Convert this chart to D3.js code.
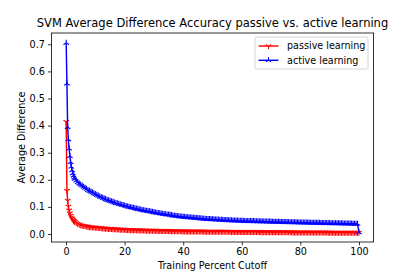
<!DOCTYPE html>
<html>
<head>
<meta charset="utf-8">
<script src="https://cdn.jsdelivr.net/npm/d3@7"></script>
<style>
body { margin: 0; background: #fff; }
text { font-family: "DejaVu Sans", sans-serif; fill: #000; }
</style>
</head>
<body>
<div id="chart"></div>
<script>
// training percent cutoff (x)
const cutoffs = [0.05, 0.3, 0.55, 0.8, 1.05, 1.3, 1.55, 1.8, 2.05, 2.3, 2.55, 2.8, 3, 3.5, 4, 4.5, 5, 5.5,
  6, 6.5, 7, 7.5, 8, 8.5, 9, 9.5, 10, 10.5,
  11, 11.5, 12, 12.5, 13, 13.5, 14, 14.5, 15, 15.5,
  16, 16.5, 17, 17.5, 18, 18.5, 19, 19.5, 20, 20.5,
  21, 21.5, 22, 22.5, 23, 23.5, 24, 24.5, 25, 25.5,
  26, 26.5, 27, 27.5, 28, 28.5, 29, 29.5, 30, 30.5,
  31, 31.5, 32, 32.5, 33, 33.5, 34, 34.5, 35, 35.5,
  36, 36.5, 37, 37.5, 38, 38.5, 39, 39.5, 40, 40.5,
  41, 41.5, 42, 42.5, 43, 43.5, 44, 44.5, 45, 45.5,
  46, 46.5, 47, 47.5, 48, 48.5, 49, 49.5, 50, 50.5,
  51, 51.5, 52, 52.5, 53, 53.5, 54, 54.5, 55, 55.5,
  56, 56.5, 57, 57.5, 58, 58.5, 59, 59.5, 60, 60.5,
  61, 61.5, 62, 62.5, 63, 63.5, 64, 64.5, 65, 65.5,
  66, 66.5, 67, 67.5, 68, 68.5, 69, 69.5, 70, 70.5,
  71, 71.5, 72, 72.5, 73, 73.5, 74, 74.5, 75, 75.5,
  76, 76.5, 77, 77.5, 78, 78.5, 79, 79.5, 80, 80.5,
  81, 81.5, 82, 82.5, 83, 83.5, 84, 84.5, 85, 85.5,
  86, 86.5, 87, 87.5, 88, 88.5, 89, 89.5, 90, 90.5,
  91, 91.5, 92, 92.5, 93, 93.5, 94, 94.5, 95, 95.5,
  96, 96.5, 97, 97.5, 98, 98.5, 99, 99.5, 100];

const passive = [0.414, 0.159, 0.123, 0.101, 0.087, 0.076, 0.068, 0.062, 0.057, 0.053, 0.050, 0.047, 0.045, 0.041, 0.038, 0.035, 0.033, 0.031,
  0.030, 0.029, 0.028, 0.027, 0.026, 0.0255, 0.025, 0.0245, 0.024, 0.0235,
  0.023, 0.0225, 0.022, 0.0215, 0.021, 0.0205, 0.020, 0.0195, 0.019, 0.0188,
  0.0185, 0.0182, 0.018, 0.0176, 0.0172, 0.0169, 0.0166, 0.0163, 0.016, 0.0158,
  0.0155, 0.0152, 0.015, 0.0148, 0.0147, 0.0145, 0.0143, 0.0141, 0.014, 0.0138,
  0.0137, 0.0135, 0.0134, 0.0132, 0.0131, 0.0129, 0.0128, 0.0126, 0.0125, 0.0124,
  0.0123, 0.0121, 0.012, 0.0119, 0.0118, 0.0117, 0.0116, 0.0115, 0.0114, 0.0113,
  0.0112, 0.0111, 0.011, 0.0109, 0.0108, 0.0107, 0.0106, 0.0105, 0.0104, 0.0104,
  0.0103, 0.0102, 0.0102, 0.0101, 0.010, 0.010, 0.0099, 0.0098, 0.0098, 0.0097,
  0.0096, 0.0096, 0.0095, 0.0094, 0.0094, 0.0093, 0.0093, 0.0092, 0.0092, 0.0091,
  0.0091, 0.009, 0.009, 0.0089, 0.0089, 0.0088, 0.0088, 0.0087, 0.0087, 0.0086,
  0.0086, 0.0085, 0.0085, 0.0084, 0.0084, 0.0083, 0.0083, 0.0082, 0.0082, 0.0081,
  0.0081, 0.008, 0.008, 0.0079, 0.0079, 0.0079, 0.0079, 0.0078, 0.0078, 0.0077,
  0.0077, 0.0076, 0.0076, 0.0075, 0.0075, 0.0074, 0.0074, 0.0073, 0.0073, 0.0072,
  0.0072, 0.0071, 0.0071, 0.0071, 0.0071, 0.007, 0.007, 0.0069, 0.0069, 0.0068,
  0.0068, 0.0068, 0.0068, 0.0067, 0.0067, 0.0066, 0.0066, 0.0065, 0.0065, 0.0064,
  0.0064, 0.0064, 0.0064, 0.0063, 0.0063, 0.0062, 0.0062, 0.0061, 0.0061, 0.0061,
  0.0061, 0.006, 0.006, 0.0059, 0.0059, 0.0059, 0.0059, 0.0058, 0.0058, 0.0057,
  0.0057, 0.0056, 0.0056, 0.0056, 0.0056, 0.0055, 0.0055, 0.0054, 0.0054, 0.0054,
  0.0054, 0.0053, 0.0053, 0.0052, 0.0052, 0.0052, 0.0052, 0.0051, 0.005];

const active = [0.705, 0.555, 0.394, 0.349, 0.315, 0.287, 0.265, 0.248, 0.235, 0.224, 0.215, 0.208, 0.203, 0.197, 0.191, 0.186, 0.182, 0.178,
  0.174, 0.170, 0.166, 0.162, 0.159, 0.156, 0.153, 0.150, 0.147, 0.144,
  0.141, 0.138, 0.136, 0.133, 0.131, 0.128, 0.126, 0.124, 0.122, 0.120,
  0.118, 0.116, 0.114, 0.1125, 0.111, 0.109, 0.1075, 0.106, 0.1045, 0.103,
  0.101, 0.0995, 0.098, 0.097, 0.096, 0.0945, 0.093, 0.092, 0.091, 0.0895,
  0.088, 0.087, 0.086, 0.085, 0.084, 0.083, 0.082, 0.081, 0.080, 0.079,
  0.078, 0.077, 0.076, 0.075, 0.074, 0.073, 0.072, 0.0715, 0.071, 0.070,
  0.069, 0.068, 0.067, 0.0665, 0.066, 0.065, 0.064, 0.0635, 0.063, 0.0625,
  0.062, 0.0615, 0.061, 0.0605, 0.060, 0.0595, 0.059, 0.0585, 0.058, 0.0575,
  0.057, 0.0565, 0.056, 0.0555, 0.055, 0.0548, 0.0545, 0.0542, 0.054, 0.0535,
  0.053, 0.0528, 0.0525, 0.0522, 0.052, 0.0515, 0.051, 0.0508, 0.0505, 0.0502,
  0.050, 0.0498, 0.0495, 0.0492, 0.049, 0.0488, 0.0485, 0.0482, 0.048, 0.0478,
  0.0477, 0.0475, 0.0474, 0.0472, 0.0471, 0.0469, 0.0468, 0.0466, 0.0465, 0.0463,
  0.0462, 0.046, 0.0459, 0.0457, 0.0456, 0.0454, 0.0453, 0.0451, 0.045, 0.0448,
  0.0447, 0.0445, 0.0444, 0.0442, 0.0441, 0.0439, 0.0438, 0.0436, 0.0435, 0.0433,
  0.0432, 0.043, 0.0429, 0.0427, 0.0426, 0.0424, 0.0423, 0.0421, 0.042, 0.0419,
  0.0418, 0.0416, 0.0415, 0.0414, 0.0413, 0.0411, 0.041, 0.0409, 0.0408, 0.0406,
  0.0405, 0.0404, 0.0403, 0.0401, 0.040, 0.0399, 0.0398, 0.0396, 0.0395, 0.0394,
  0.0393, 0.0391, 0.039, 0.0389, 0.0388, 0.0386, 0.0385, 0.0384, 0.0383, 0.0381,
  0.038, 0.0379, 0.0378, 0.0376, 0.0375, 0.0374, 0.0373, 0.037, 0.006];

const xTicks = [0, 20, 40, 60, 80, 100];
const yTicks = [0, 0.1, 0.2, 0.3, 0.4, 0.5, 0.6, 0.7];
const seriesNames = ["passive learning", "active learning"];

const W = 415, H = 277;
const box = { left: 51.4, right: 373.6, top: 33, bottom: 242 };

const svg = d3.select("#chart").append("svg")
  .attr("width", W).attr("height", H);

const x = d3.scaleLinear().domain([-5, 105]).range([box.left, box.right]);
const y = d3.scaleLinear().domain([-0.0295, 0.7417]).range([box.bottom, box.top]);

// tri markers like matplotlib '1' (down) and '2' (up)
const r = 3.2;
function triPath(up) {
  const s = up ? 1 : -1;
  return `M0,0L0,${-s * r}M0,0L${-0.866 * r},${0.5 * r * s}M0,0L${0.866 * r},${0.5 * r * s}`;
}

const series = [
  { name: seriesNames[0], values: passive, color: "#ff0000", up: false },
  { name: seriesNames[1], values: active, color: "#0000ff", up: true }
];

const plot = svg.append("g");
const line = d3.line().x(d => x(d[0])).y(d => y(d[1]));

series.forEach(s => {
  const pts = cutoffs.map((c, i) => [c, s.values[i]]);
  plot.append("path")
    .datum(pts)
    .attr("d", line)
    .attr("fill", "none")
    .attr("stroke", s.color)
    .attr("stroke-width", 1.45);
  plot.selectAll(null)
    .data(pts)
    .enter().append("path")
    .attr("transform", d => `translate(${x(d[0])},${y(d[1])})`)
    .attr("d", triPath(s.up))
    .attr("fill", "none")
    .attr("stroke", s.color)
    .attr("stroke-width", 1.1);
});

// axes
const xAxis = d3.axisBottom(x).tickValues(xTicks).tickSize(3.4).tickPadding(3.2).tickFormat(d3.format("d"));
const yAxis = d3.axisLeft(y).tickValues(yTicks).tickSize(3.4).tickPadding(3.2).tickFormat(d3.format(".1f"));

const gx = svg.append("g").attr("transform", `translate(0,${box.bottom})`).call(xAxis);
const gy = svg.append("g").attr("transform", `translate(${box.left},0)`).call(yAxis);
[gx, gy].forEach(g => {
  g.select(".domain").remove();
  g.selectAll("line").attr("stroke", "#000").attr("stroke-width", 0.8);
  g.selectAll("text").style("font-size", "9.6px").attr("fill", "#000");
});

// frame
svg.append("rect")
  .attr("x", box.left).attr("y", box.top)
  .attr("width", box.right - box.left).attr("height", box.bottom - box.top)
  .attr("fill", "none").attr("stroke", "#000").attr("stroke-width", 0.8);

// title and labels
svg.append("text")
  .attr("x", (box.left + box.right) / 2).attr("y", 27.2)
  .attr("text-anchor", "middle").style("font-size", "11.5px")
  .text("SVM Average Difference Accuracy passive vs. active learning");

svg.append("text")
  .attr("x", (box.left + box.right) / 2).attr("y", 269)
  .attr("text-anchor", "middle").style("font-size", "9.6px")
  .text("Training Percent Cutoff");

svg.append("text")
  .attr("transform", `translate(25,${(box.top + box.bottom) / 2}) rotate(-90)`)
  .attr("text-anchor", "middle").style("font-size", "9.6px")
  .text("Average Difference");

// legend
const leg = svg.append("g");
leg.append("rect")
  .attr("x", 255).attr("y", 37).attr("width", 113).attr("height", 32).attr("rx", 2)
  .attr("fill", "#fff").attr("fill-opacity", 0.8)
  .attr("stroke", "#cccccc").attr("stroke-width", 0.8);

series.forEach((s, i) => {
  const ly = 46 + i * 14.3;
  leg.append("line")
    .attr("x1", 258.5).attr("x2", 278.5).attr("y1", ly).attr("y2", ly)
    .attr("stroke", s.color).attr("stroke-width", 1.45);
  leg.append("path")
    .attr("transform", `translate(268.5,${ly})`)
    .attr("d", triPath(s.up))
    .attr("fill", "none").attr("stroke", s.color).attr("stroke-width", 1);
  leg.append("text")
    .attr("x", 287).attr("y", ly).attr("dy", "0.35em")
    .style("font-size", "9.6px")
    .text(s.name);
});
</script>
</body>
</html>
